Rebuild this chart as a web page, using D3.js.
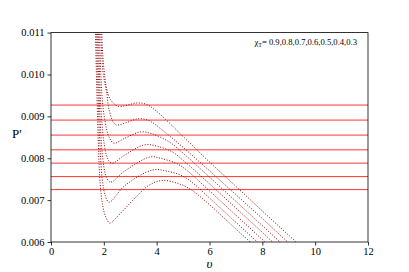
<!DOCTYPE html>
<html>
<head>
<meta charset="utf-8">
<script src="https://cdn.jsdelivr.net/npm/d3@7"></script>
<style>
  html, body { margin: 0; padding: 0; background: #fff; }
</style>
</head>
<body>
<div id="chart"></div>
<script>
// data
const chiValues = [0.9, 0.8, 0.7, 0.6, 0.5, 0.4, 0.3];
const vTicks = [0, 2, 4, 6, 8, 10, 12];
const pTicks = [0.006, 0.007, 0.008, 0.009, 0.010, 0.011];

// horizontal pressure levels
const levels = [0.00927, 0.008911, 0.008553, 0.008201, 0.007883, 0.007562, 0.007251];

// isotherms [v, P'], one per chi
const curve09 = [[1.9,0.0116],[1.94,0.0107],[2.01,0.0101],[2.1,0.00968],[2.25,0.00940],[2.55,0.009237],[2.9,0.00927],[3.25,0.009318],[3.6,0.00929],[4.0,0.00912],[5,0.00852],[6,0.00791],[7,0.00733],[8,0.00674],[9.28,0.006],[9.6,0.00582]];
const curve08 = [[1.86,0.0116],[1.91,0.0106],[1.98,0.0100],[2.1,0.00960],[2.22,0.00910],[2.45,0.00880],[2.85,0.00885],[3.3,0.008943],[3.7,0.00890],[4.2,0.00868],[5,0.00826],[6,0.00770],[7,0.00713],[8,0.00656],[8.96,0.006],[9.3,0.00582]];
const curve07 = [[1.82,0.0116],[1.86,0.0105],[1.93,0.0095],[2.04,0.0089],[2.2,0.00850],[2.38,0.00836],[2.8,0.00848],[3.4,0.00863],[3.8,0.00859],[4.5,0.00838],[5,0.00812],[6,0.00755],[7,0.00697],[8,0.00639],[8.67,0.006],[9.0,0.00582]];
const curve06 = [[1.78,0.0116],[1.82,0.0104],[1.89,0.0092],[2.0,0.0084],[2.14,0.00800],[2.3,0.00788],[2.8,0.00808],[3.55,0.00832],[4.0,0.00829],[4.6,0.00815],[5,0.00795],[6,0.00739],[7,0.00681],[8,0.00623],[8.39,0.006],[8.7,0.00582]];
const curve05 = [[1.74,0.0116],[1.79,0.0102],[1.86,0.0089],[1.96,0.0080],[2.09,0.00756],[2.25,0.00743],[2.8,0.00770],[3.75,0.00803],[4.2,0.00799],[4.8,0.00786],[5.2,0.00768],[6,0.00722],[7,0.00664],[8.10,0.006],[8.4,0.00582]];
const curve04 = [[1.70,0.0116],[1.76,0.0100],[1.84,0.0085],[1.94,0.0075],[2.06,0.00710],[2.2,0.00695],[2.8,0.00735],[3.85,0.00772],[4.4,0.00769],[5.0,0.00757],[5.5,0.00734],[6,0.00705],[7,0.00647],[7.81,0.006],[8.1,0.00582]];
const curve03 = [[1.66,0.0116],[1.72,0.0100],[1.79,0.0084],[1.86,0.0074],[1.95,0.00690],[2.06,0.00662],[2.23,0.00645],[2.5,0.00660],[3.18,0.00705],[3.7,0.00735],[4.2,0.00747],[4.8,0.00740],[5.3,0.00725],[6,0.00689],[7,0.00631],[7.54,0.006],[7.85,0.00582]];
const curves = [curve09, curve08, curve07, curve06, curve05, curve04, curve03];

const width = 409, height = 272;
const x0 = 51, x1 = 368, y0 = 242, y1 = 32.6;
const serif = '"Liberation Serif", "Times New Roman", Times, "DejaVu Serif", serif';

const svg = d3.select('#chart')
    .append('svg')
    .attr('width', width)
    .attr('height', height)
    .attr('font-family', serif);

const x = d3.scaleLinear().domain([0, 12]).range([x0, x1]);
const y = d3.scaleLinear().domain([0.006, 0.011]).range([y0, y1]);

svg.append('clipPath')
    .attr('id', 'plot-clip')
    .append('rect')
    .attr('x', x0).attr('y', y1)
    .attr('width', x1 - x0).attr('height', y0 - y1);

const plot = svg.append('g').attr('clip-path', 'url(#plot-clip)');

// horizontal levels
plot.selectAll('.level')
    .data(levels)
    .enter()
    .append('line')
    .attr('class', 'level')
    .attr('x1', x0).attr('x2', x1)
    .attr('y1', d => y(d)).attr('y2', d => y(d))
    .style('stroke', '#ff0000')
    .style('stroke-width', 0.8);

// dotted isotherms
const line = d3.line()
    .x(d => x(d[0]))
    .y(d => y(d[1]))
    .curve(d3.curveCatmullRom.alpha(0.5));

plot.selectAll('.iso')
    .data(curves)
    .enter()
    .append('path')
    .attr('class', 'iso')
    .attr('d', line)
    .style('fill', 'none')
    .style('stroke', '#8b0000')
    .style('stroke-width', 1)
    .style('stroke-dasharray', '1,1.65');

// axes
const xAxis = svg.append('g')
    .attr('transform', `translate(0,${y0})`)
    .call(d3.axisBottom(x).tickValues(vTicks).tickSize(3.5).tickPadding(2.5));
const yAxis = svg.append('g')
    .attr('transform', `translate(${x0},0)`)
    .call(d3.axisLeft(y).tickValues(pTicks).tickFormat(d3.format('.3f')).tickSize(3.5).tickPadding(3));

[xAxis, yAxis].forEach(a => {
    a.attr('font-family', serif).attr('font-size', 10.5);
    a.select('.domain').remove();
    a.selectAll('line').style('stroke', '#000').style('stroke-width', 0.8);
    a.selectAll('text').style('fill', '#000');
});

// frame
svg.append('rect')
    .attr('x', x0).attr('y', y1)
    .attr('width', x1 - x0).attr('height', y0 - y1)
    .style('fill', 'none')
    .style('stroke', '#000')
    .style('stroke-width', 0.8);

// labels
svg.append('text')
    .attr('x', (x0 + x1) / 2)
    .attr('y', 268)
    .attr('text-anchor', 'middle')
    .attr('font-size', 13)
    .attr('font-style', 'italic')
    .text('υ');

svg.append('text')
    .attr('x', 12)
    .attr('y', 138)
    .attr('font-size', 13)
    .text("P'");

const note = svg.append('text')
    .attr('x', 357)
    .attr('y', 45)
    .attr('text-anchor', 'end')
    .attr('font-size', 8.6);
note.append('tspan').text('χ');
note.append('tspan').attr('dy', 1.8).attr('font-size', 6).text('T');
note.append('tspan').attr('dy', -1.8).text('= ' + chiValues.join(','));
</script>
</body>
</html>
